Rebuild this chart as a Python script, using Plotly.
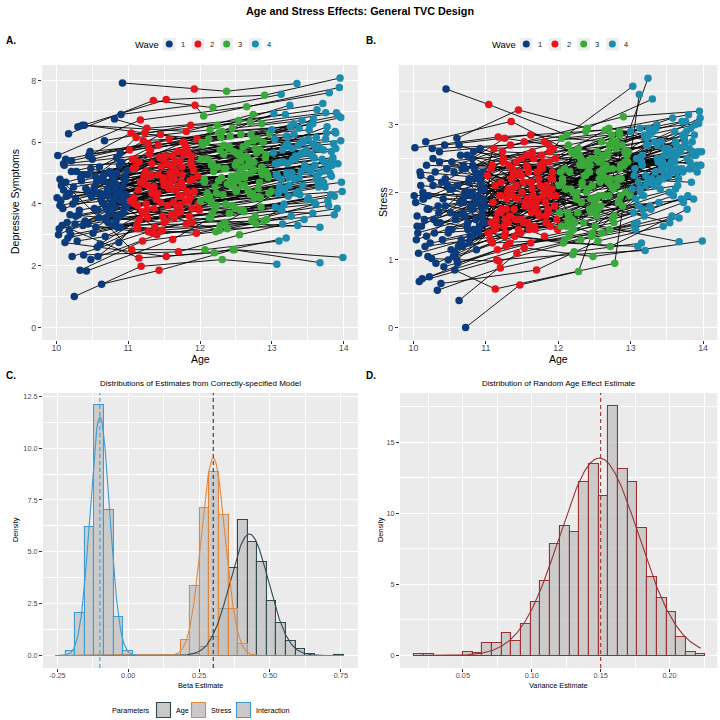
import numpy as np
import plotly.graph_objects as go

FONT = "Liberation Sans, Arial, sans-serif"

# ---------------- Panel A/B data (per subject, 4 waves) ----------------
age_w1 = [10.25, 10.63, 10.92, 10.17, 10.30, 10.90, 10.45, 10.72, 10.57, 10.60,
          10.02, 10.05, 10.08, 10.12, 10.20, 10.33, 10.38, 10.22, 10.42, 10.48,
          10.03, 10.06, 10.10, 10.14, 10.19, 10.24, 10.28, 10.32, 10.36, 10.40,
          10.44, 10.50, 10.53, 10.56, 10.59, 10.62, 10.65, 10.68, 10.70, 10.74,
          10.76, 10.78, 10.80, 10.82, 10.84, 10.86, 10.88, 10.94, 10.96, 10.98,
          10.64, 10.66, 10.69, 10.71, 10.73, 10.75, 10.77, 10.79, 10.81, 10.83,
          10.52, 10.55, 10.58, 10.61, 10.85, 10.87, 10.91, 10.93, 10.95, 10.97,
          10.99, 10.01, 10.04, 10.07, 10.09, 10.11, 10.13, 10.15, 10.18, 10.21,
          10.23, 10.27, 10.29, 10.34, 10.37, 10.41, 10.46, 10.49, 10.51, 10.54,
          10.39, 10.26, 10.16, 10.43, 10.47, 10.67, 10.89, 10.81, 10.36, 10.13,
          10.05, 10.10, 10.18, 10.21, 10.27, 10.31, 10.35, 10.44, 10.48, 10.53,
          10.58, 10.61, 10.66, 10.69, 10.72, 10.75, 10.78, 10.80, 10.83, 10.86,
          10.88, 10.91, 10.93, 10.95, 10.97, 10.68, 10.74, 10.77, 10.82, 10.85,
          10.60, 10.63, 10.70, 10.79, 10.84, 10.90, 10.94, 10.96, 10.98, 10.71]
age_w2 = [11.18, 11.43, 11.92, 11.35, 11.53, 11.93, 11.04, 11.47, 11.13, 11.45,
          11.17, 11.05, 11.15, 11.53, 11.60, 11.20, 11.70, 11.28, 11.62, 11.40,
          11.08, 11.22, 11.30, 11.38, 11.50, 11.65, 11.75, 11.82, 11.88, 11.25,
          11.33, 11.42, 11.57, 11.63, 11.68, 11.72, 11.78, 11.85, 11.90, 11.10,
          11.14, 11.19, 11.24, 11.27, 11.31, 11.36, 11.39, 11.44, 11.49, 11.52,
          11.56, 11.59, 11.64, 11.67, 11.71, 11.74, 11.77, 11.81, 11.84, 11.87,
          11.06, 11.09, 11.12, 11.16, 11.21, 11.26, 11.29, 11.32, 11.37, 11.41,
          11.46, 11.50, 11.55, 11.58, 11.61, 11.66, 11.69, 11.73, 11.76, 11.80,
          11.83, 11.86, 11.89, 11.91, 11.95, 11.97, 11.96, 11.98, 11.99, 11.02,
          11.23, 11.34, 11.48, 11.62, 11.76, 11.87, 11.11, 11.26, 11.81, 11.57,
          11.36, 11.45, 11.13, 11.28, 11.59, 11.74, 11.07, 11.89, 11.21, 11.54,
          11.66, 11.31, 11.79, 11.03, 11.64, 11.92, 11.17, 11.48, 11.72, 11.24,
          11.83, 11.39, 11.61, 11.09, 11.86, 11.27, 11.52, 11.69, 11.42, 11.80,
          11.15, 11.58, 11.33, 11.75, 11.21, 11.68, 11.49, 11.88, 11.35, 11.63]
age_w3 = [12.31, 12.46, 12.37, 12.18, 12.90, 12.05, 12.12, 12.28, 12.78, 12.40,
          12.65, 12.07, 12.20, 12.48, 12.35, 12.22, 12.55, 12.60, 12.15, 12.72,
          12.10, 12.25, 12.42, 12.30, 12.50, 12.58, 12.68, 12.82, 12.88, 12.15,
          12.33, 12.45, 12.52, 12.62, 12.70, 12.75, 12.80, 12.85, 12.92, 12.02,
          12.06, 12.11, 12.16, 12.21, 12.26, 12.32, 12.36, 12.41, 12.44, 12.49,
          12.53, 12.57, 12.61, 12.64, 12.67, 12.71, 12.74, 12.77, 12.81, 12.84,
          12.04, 12.09, 12.13, 12.17, 12.23, 12.27, 12.29, 12.34, 12.39, 12.43,
          12.47, 12.51, 12.56, 12.59, 12.63, 12.66, 12.69, 12.73, 12.76, 12.79,
          12.83, 12.87, 12.89, 12.91, 12.93, 12.95, 12.97, 12.99, 12.01, 12.03,
          12.24, 12.38, 12.45, 12.60, 12.70, 12.86, 12.14, 12.54, 12.74, 12.57,
          12.19, 12.62, 12.84, 12.31, 12.11, 12.47, 12.69, 12.23, 12.55, 12.94,
          12.06, 12.36, 12.77, 12.41, 12.17, 12.63, 12.86, 12.28, 12.51, 12.72,
          12.09, 12.45, 12.96, 12.33, 12.59, 12.21, 12.80, 12.38, 12.66, 12.13,
          12.53, 12.85, 12.26, 12.49, 12.71, 12.16, 12.57, 12.92, 12.43, 12.75]
age_w4 = [13.07, 13.67, 13.35, 13.13, 13.95, 13.94, 13.03, 13.24, 13.12, 13.30,
          13.80, 13.10, 13.20, 13.99, 13.67, 13.15, 13.45, 13.57, 13.05, 13.78,
          13.08, 13.40, 13.52, 13.22, 13.62, 13.48, 13.58, 13.72, 13.88, 13.18,
          13.28, 13.42, 13.55, 13.60, 13.65, 13.70, 13.75, 13.82, 13.85, 13.02,
          13.06, 13.11, 13.16, 13.21, 13.26, 13.32, 13.37, 13.43, 13.46, 13.50,
          13.53, 13.56, 13.61, 13.64, 13.69, 13.73, 13.76, 13.79, 13.83, 13.86,
          13.04, 13.09, 13.14, 13.17, 13.23, 13.27, 13.31, 13.34, 13.38, 13.41,
          13.44, 13.47, 13.51, 13.54, 13.59, 13.62, 13.66, 13.71, 13.74, 13.77,
          13.81, 13.84, 13.87, 13.89, 13.91, 13.92, 13.96, 13.97, 13.98, 13.00,
          13.19, 13.36, 13.39, 13.58, 13.75, 13.90, 13.25, 13.63, 13.71, 13.93,
          13.29, 13.49, 13.16, 13.53, 13.83, 13.07, 13.42, 13.65, 13.37, 13.11,
          13.74, 13.56, 13.21, 13.87, 13.33, 13.46, 13.69, 13.96, 13.13, 13.61,
          13.38, 13.78, 13.24, 13.51, 13.05, 13.59, 13.89, 13.28, 13.72, 13.43,
          13.19, 13.81, 13.66, 13.15, 13.57, 13.34, 13.85, 13.22, 13.63, 13.47]

dep_w1 = [1.00, 1.40, 7.92, 6.27, 6.50, 6.90, 5.55, 3.40, 2.60, 5.20,
          5.57, 4.80, 3.30, 2.75, 3.00, 1.85, 2.35, 2.30, 1.83, 2.20,
          3.00, 4.10, 5.30, 4.25, 3.65, 4.55, 5.05, 3.80, 4.95, 3.45,
          4.40, 5.45, 3.85, 4.70, 3.55, 4.15, 4.90, 3.95, 4.35, 4.60,
          3.70, 4.05, 4.45, 3.90, 5.00, 4.25, 3.60, 4.80, 4.15, 3.95,
          4.05, 4.75, 3.50, 4.30, 3.75, 4.55, 4.95, 3.30, 4.20, 4.65,
          4.40, 3.25, 2.30, 2.70, 3.25, 2.75, 5.35, 4.55, 3.90, 4.30,
          5.10, 4.20, 3.20, 4.60, 3.85, 5.25, 4.70, 3.40, 4.35, 5.05,
          4.00, 3.60, 2.80, 4.85, 3.30, 4.50, 5.60, 4.25, 3.05, 4.90,
          6.55, 3.35, 2.90, 4.95, 5.70, 6.05, 5.65, 6.75, 6.55, 5.45,
          3.95, 4.45, 3.15, 5.40, 4.15, 3.65, 4.75, 3.35, 5.15, 4.55,
          3.80, 4.35, 4.95, 3.55, 4.25, 4.65, 3.95, 4.85, 3.45, 4.40,
          5.25, 4.10, 3.70, 4.90, 4.20, 2.95, 5.05, 4.00, 4.50, 3.60,
          4.80, 4.20, 3.85, 4.60, 5.50, 3.25, 4.30, 4.75, 3.90, 4.45]
dep_w2 = [1.98, 1.85, 7.72, 7.35, 7.38, 7.20, 6.30, 3.15, 3.20, 6.25,
          6.72, 2.52, 2.25, 2.30, 3.65, 2.80, 2.45, 3.10, 2.85, 3.00,
          4.20, 4.90, 5.60, 4.30, 3.40, 5.10, 4.95, 4.40, 5.55, 4.00,
          5.30, 5.90, 4.65, 4.05, 3.90, 5.40, 6.00, 3.60, 4.80, 5.20,
          4.45, 3.75, 4.85, 4.60, 5.75, 3.85, 4.15, 5.50, 4.75, 3.45,
          4.50, 5.25, 3.55, 5.00, 4.25, 4.70, 5.65, 3.35, 4.10, 5.35,
          5.45, 4.00, 3.30, 3.50, 3.70, 3.80, 5.80, 4.95, 3.25, 4.35,
          5.20, 4.60, 3.95, 5.00, 4.85, 5.35, 5.70, 3.75, 4.55, 5.85,
          4.35, 4.20, 3.40, 5.10, 3.05, 4.90, 6.10, 4.00, 3.80, 5.75,
          6.30, 3.05, 3.60, 5.55, 6.00, 6.55, 6.15, 6.45, 6.35, 6.10,
          4.55, 4.05, 3.95, 5.95, 4.95, 4.25, 5.15, 3.85, 4.65, 5.30,
          4.45, 4.90, 5.60, 4.10, 4.80, 4.40, 4.70, 5.45, 3.95, 5.05,
          5.70, 4.30, 4.50, 5.45, 4.75, 3.55, 5.55, 4.55, 4.95, 4.10,
          5.35, 4.70, 4.35, 5.20, 6.05, 3.70, 4.85, 5.25, 4.45, 5.00]
dep_w3 = [2.20, 2.52, 7.65, 7.12, 7.52, 6.85, 6.10, 3.30, 3.35, 5.80,
          7.15, 2.52, 2.42, 2.52, 3.40, 3.10, 3.00, 3.80, 3.55, 3.45,
          4.35, 5.20, 6.20, 4.85, 4.40, 5.50, 5.30, 4.25, 6.00, 4.10,
          5.60, 6.45, 4.95, 4.60, 4.30, 5.10, 5.70, 3.90, 5.05, 5.45,
          4.70, 4.15, 5.25, 4.55, 6.30, 4.30, 4.00, 5.85, 4.90, 3.85,
          4.75, 5.40, 3.75, 5.55, 4.45, 5.00, 6.05, 3.60, 4.50, 5.75,
          5.90, 4.20, 3.55, 3.70, 3.95, 3.15, 6.15, 5.15, 4.65, 4.80,
          5.70, 5.35, 3.80, 4.60, 5.20, 5.95, 5.40, 4.35, 4.20, 5.65,
          4.70, 4.95, 3.45, 5.50, 3.50, 4.85, 6.30, 4.40, 4.10, 6.00,
          6.55, 3.20, 3.95, 5.85, 6.65, 6.60, 6.40, 6.70, 6.90, 6.25,
          5.05, 4.85, 4.20, 6.35, 5.45, 4.55, 5.25, 4.35, 5.65, 4.95,
          4.80, 5.15, 5.80, 3.70, 5.30, 4.95, 5.20, 5.75, 4.45, 5.35,
          6.00, 4.70, 4.35, 5.90, 4.90, 3.85, 6.10, 4.65, 5.50, 4.25,
          5.60, 5.05, 4.75, 5.25, 6.25, 4.05, 5.15, 5.60, 4.60, 5.35]
dep_w4 = [2.05, 2.10, 7.90, 7.55, 8.08, 7.77, 6.92, 4.60, 3.85, 6.60,
          7.60, 2.80, 2.90, 2.27, 3.25, 3.35, 3.50, 3.70, 3.90, 4.10,
          4.90, 5.60, 6.40, 5.30, 4.80, 5.75, 5.95, 4.70, 6.35, 4.45,
          5.80, 6.70, 5.10, 5.25, 4.55, 5.45, 6.10, 4.30, 5.40, 5.65,
          4.95, 4.55, 5.35, 5.00, 6.50, 4.80, 4.40, 6.05, 5.20, 4.15,
          5.15, 5.55, 4.00, 5.80, 4.75, 5.35, 6.30, 3.95, 4.90, 5.95,
          6.10, 4.35, 3.80, 4.00, 4.25, 3.60, 6.25, 5.50, 4.85, 5.05,
          6.00, 5.70, 4.20, 5.05, 5.50, 6.15, 5.85, 4.65, 4.55, 6.50,
          5.00, 5.25, 3.65, 5.80, 3.85, 5.30, 6.80, 4.70, 4.40, 6.40,
          6.90, 3.30, 4.30, 6.75, 6.95, 6.95, 7.20, 7.05, 7.25, 6.85,
          5.45, 5.15, 4.50, 6.55, 5.70, 4.95, 5.65, 4.65, 5.90, 5.35,
          5.10, 5.60, 6.20, 4.25, 5.55, 5.25, 5.05, 6.05, 4.80, 5.85,
          6.45, 5.15, 4.85, 6.10, 5.30, 4.05, 6.30, 5.00, 5.75, 4.60,
          5.85, 5.35, 5.00, 5.75, 6.60, 4.35, 5.50, 5.95, 4.90, 5.65]

str_w1 = [1.02, 0.40, 2.65, 2.75, 2.30, 2.20, 3.53, 0.00, 0.85, 2.80,
          2.66, 1.65, 0.68, 0.72, 1.05, 0.55, 0.65, 0.75, 0.90, 1.00,
          1.85, 1.40, 2.10, 1.90, 1.75, 2.20, 1.60, 1.55, 2.45, 1.30,
          1.80, 2.05, 1.45, 2.30, 1.65, 1.20, 2.55, 1.70, 1.95, 1.50,
          2.15, 1.35, 2.00, 1.75, 2.35, 1.60, 1.90, 2.25, 1.55, 2.05,
          1.85, 1.25, 2.40, 1.65, 2.00, 1.45, 2.20, 1.80, 1.35, 2.60,
          1.15, 1.05, 1.10, 0.95, 1.40, 1.15, 2.25, 2.05, 1.70, 1.90,
          1.80, 1.95, 1.30, 1.10, 2.30, 1.50, 2.00, 1.60, 2.40, 1.75,
          1.25, 2.10, 1.40, 1.80, 1.55, 1.90, 2.35, 1.45, 1.70, 2.05,
          2.15, 2.65, 1.20, 2.70, 2.10, 2.35, 1.95, 2.50, 2.60, 1.90,
          1.50, 2.25, 1.35, 1.95, 2.50, 0.95, 1.70, 2.20, 1.40, 2.45,
          1.60, 2.10, 1.30, 1.85, 2.35, 1.55, 2.00, 1.75, 1.45, 2.30,
          1.85, 1.50, 2.15, 1.65, 2.05, 1.20, 2.55, 1.25, 2.40, 1.90,
          1.00, 2.70, 1.65, 1.95, 2.20, 1.40, 1.80, 2.30, 1.55, 2.00]
str_w2 = [0.98, 1.10, 2.30, 3.05, 2.75, 2.65, 3.30, 0.63, 0.57, 3.22,
          2.82, 1.40, 1.00, 1.18, 1.45, 0.88, 0.85, 1.20, 1.25, 1.35,
          1.55, 1.75, 2.00, 2.25, 1.60, 1.95, 2.10, 1.85, 2.60, 1.50,
          1.65, 2.45, 1.90, 2.15, 1.45, 1.70, 2.35, 2.00, 2.20, 1.85,
          1.60, 1.95, 2.50, 1.40, 2.05, 2.35, 1.75, 1.90, 2.25, 1.55,
          2.40, 1.80, 2.05, 1.50, 2.30, 1.65, 2.55, 1.35, 2.10, 2.45,
          1.30, 1.25, 1.45, 1.15, 1.70, 1.35, 1.90, 2.40, 1.95, 1.60,
          2.30, 2.00, 1.85, 1.55, 2.15, 2.50, 1.80, 2.20, 2.35, 2.05,
          1.55, 1.70, 1.50, 2.05, 1.80, 1.95, 2.50, 1.60, 1.45, 2.25,
          2.60, 2.70, 1.40, 2.85, 2.40, 2.70, 2.65, 2.80, 2.75, 2.55,
          2.05, 1.45, 2.10, 1.75, 2.30, 1.65, 2.35, 1.95, 2.15, 1.80,
          2.50, 1.55, 1.95, 1.40, 2.60, 2.20, 1.70, 2.25, 1.90, 2.45,
          1.65, 2.30, 1.85, 2.40, 1.75, 1.60, 2.15, 1.85, 2.10, 2.45,
          1.50, 2.35, 1.25, 2.40, 1.95, 1.75, 2.50, 2.00, 2.20, 1.70]
str_w3 = [1.30, 1.35, 2.45, 2.60, 3.12, 2.80, 2.85, 0.83, 0.95, 2.95,
          2.92, 1.25, 1.08, 1.05, 1.55, 1.12, 1.28, 1.40, 1.35, 1.20,
          2.05, 1.90, 2.30, 2.40, 1.75, 2.15, 2.55, 2.20, 2.70, 1.65,
          2.10, 2.50, 1.80, 2.25, 1.95, 1.60, 2.65, 2.35, 2.45, 1.70,
          2.15, 1.50, 2.30, 2.00, 2.55, 1.85, 2.25, 2.05, 2.40, 1.90,
          1.65, 2.20, 2.50, 1.95, 2.35, 1.45, 2.75, 1.55, 2.10, 2.90,
          1.50, 1.30, 1.60, 1.40, 1.55, 1.70, 2.55, 2.45, 2.00, 2.30,
          2.10, 2.50, 1.95, 1.80, 2.20, 2.35, 2.60, 2.10, 2.05, 2.65,
          1.85, 2.20, 1.80, 2.40, 2.00, 2.55, 2.60, 1.95, 2.10, 2.30,
          2.55, 2.90, 1.70, 2.75, 2.95, 2.40, 2.70, 2.60, 2.85, 2.45,
          1.60, 2.35, 1.85, 2.50, 2.05, 1.40, 2.15, 2.60, 1.75, 2.45,
          2.20, 2.40, 1.65, 2.30, 2.05, 2.55, 1.95, 2.65, 1.50, 2.20,
          2.35, 1.90, 2.45, 2.15, 2.50, 1.45, 2.75, 2.25, 2.40, 1.70,
          1.90, 2.85, 2.00, 1.80, 2.70, 1.55, 2.30, 2.60, 1.75, 2.35]
str_w4 = [1.45, 1.62, 2.95, 2.95, 3.20, 3.02, 3.57, 3.69, 3.45, 3.38,
          3.15, 1.20, 1.14, 1.28, 1.27, 1.25, 1.50, 1.65, 1.52, 1.75,
          2.50, 2.20, 2.65, 2.70, 2.05, 2.40, 2.55, 2.30, 2.85, 1.95,
          2.15, 2.75, 2.35, 2.60, 2.10, 1.90, 2.70, 2.45, 2.75, 2.05,
          2.35, 1.80, 2.55, 2.25, 2.85, 2.10, 2.50, 2.40, 2.20, 2.60,
          2.00, 2.30, 2.45, 2.55, 2.65, 1.85, 3.05, 1.95, 2.35, 2.60,
          1.70, 1.55, 2.00, 1.75, 2.15, 1.80, 2.90, 2.30, 2.45, 2.05,
          2.45, 2.65, 2.25, 1.55, 2.50, 2.75, 2.20, 2.35, 2.80, 2.90,
          2.35, 2.15, 1.90, 2.55, 2.40, 2.30, 3.10, 2.40, 2.60, 2.90,
          2.85, 3.00, 1.85, 3.10, 2.75, 2.55, 2.95, 2.70, 3.05, 2.60,
          2.20, 2.65, 2.40, 2.25, 2.95, 1.90, 2.50, 2.35, 2.70, 2.15,
          2.80, 2.45, 2.10, 2.55, 2.75, 2.30, 2.60, 2.40, 2.05, 2.90,
          2.15, 2.50, 2.70, 2.55, 2.25, 1.95, 3.00, 1.75, 2.85, 2.35,
          1.65, 2.65, 2.20, 2.45, 2.35, 2.15, 2.60, 2.80, 2.30, 2.55]

wave_labels = ["1", "2", "3", "4"]
wave_colors = ["#0C3B7C", "#E6141B", "#3AA83A", "#1C8BAD"]

# ---------------- Panel C data (histogram densities, shared bins) ----------------
beta_bin_start = -0.2545
beta_bin_width = 0.0338
beta_density_age = [0, 0, 0, 0, 0, 0, 0, 0, 0, 0, 0, 0, 0, 0, 0.07,
                    0.40, 0.89, 2.24, 4.22, 6.52, 5.46, 4.49, 2.61, 1.59, 0.68,
                    0.31, 0.06, 0, 0, 0.03]
beta_density_stress = [0, 0, 0, 0, 0, 0, 0, 0, 0, 0, 0, 0, 0, 0.76, 3.36,
                       7.11, 8.83, 6.79, 2.24, 0.56, 0, 0, 0, 0, 0,
                       0, 0, 0, 0, 0]
beta_density_inter = [0, 0.24, 2.05, 6.20, 12.07, 7.03, 1.85, 0.21, 0, 0,
                      0, 0, 0, 0, 0, 0, 0, 0, 0, 0,
                      0, 0, 0, 0, 0, 0, 0, 0, 0, 0]
param_names = ["Age", "Stress", "Interaction"]
param_colors = ["#2F4A4F", "#E0873E", "#3D9BD1"]
param_mean = [0.4274, 0.300, -0.100]
param_sd = [0.0681, 0.0419, 0.0347]
beta_range = [-0.25, 0.76]
true_beta = [0.30, -0.10]
true_beta_colors = ["#333333", "#3D9BD1"]
beta_ticks = [-0.25, 0.0, 0.25, 0.5, 0.75]
beta_ticktext = ["-0.25", "0.00", "0.25", "0.50", "0.75"]

# ---------------- Panel D data ----------------
var_bin_start = 0.0148
var_bin_width = 0.00704
var_density = [0.14, 0.14, 0, 0, 0, 0.28, 0.20, 0.90, 0.90, 1.60,
               1.05, 2.20, 3.75, 5.25, 7.85, 9.15, 8.70, 12.20, 13.50, 11.20,
               17.60, 13.10, 12.20, 9.00, 5.50, 4.05, 3.05, 1.30, 0.28, 0.14]
var_mean = 0.149
var_sd = 0.0287
var_range = [0.0149, 0.2227]
true_var = 0.15
var_color = "#9C2F2F"

# ---------------- helpers ----------------
def PX(p):
    return p / 720.0

def PY(p):
    return 1 - p / 720.0

def npdf(x, m, s):
    return np.exp(-0.5 * ((x - m) / s) ** 2) / (s * np.sqrt(2 * np.pi))

fig = go.Figure()

ages = [age_w1, age_w2, age_w3, age_w4]
deps = [dep_w1, dep_w2, dep_w3, dep_w4]
strs = [str_w1, str_w2, str_w3, str_w4]
n_sub = min(len(a) for a in ages + deps + strs)

for vals, xa, ya in [(deps, "x", "y"), (strs, "x2", "y2")]:
    lx, ly = [], []
    for i in range(n_sub):
        for w in range(4):
            lx.append(ages[w][i])
            ly.append(vals[w][i])
        lx.append(None)
        ly.append(None)
    fig.add_trace(go.Scatter(x=lx, y=ly, mode="lines", xaxis=xa, yaxis=ya,
                             line=dict(color="black", width=0.9),
                             showlegend=False, hoverinfo="skip"))
    for w in range(4):
        fig.add_trace(go.Scatter(x=ages[w][:n_sub], y=vals[w][:n_sub], mode="markers",
                                 xaxis=xa, yaxis=ya, name=wave_labels[w],
                                 marker=dict(color=wave_colors[w], size=7.5, line=dict(width=0)),
                                 showlegend=False))

# Panel C bars
beta_centers = [beta_bin_start + beta_bin_width * (k + 0.5) for k in range(len(beta_density_age))]
for name, dens, col in zip(param_names, [beta_density_age, beta_density_stress, beta_density_inter], param_colors):
    fig.add_trace(go.Bar(x=beta_centers, y=dens, width=beta_bin_width, xaxis="x3", yaxis="y3",
                         marker=dict(color="rgba(190,190,190,0.7)", line=dict(color=col, width=1.1)),
                         name=name, showlegend=False))
xc = np.linspace(beta_range[0], beta_range[1], 400)
for name, m, s, col in zip(param_names, param_mean, param_sd, param_colors):
    fig.add_trace(go.Scatter(x=xc, y=npdf(xc, m, s), mode="lines", xaxis="x3", yaxis="y3",
                             line=dict(color=col, width=1.1), showlegend=False, hoverinfo="skip"))

# Panel D bars
var_centers = [var_bin_start + var_bin_width * (k + 0.5) for k in range(len(var_density))]
fig.add_trace(go.Bar(x=var_centers, y=var_density, width=var_bin_width, xaxis="x4", yaxis="y4",
                     marker=dict(color="rgba(190,190,190,0.7)", line=dict(color=var_color, width=1.1)),
                     showlegend=False))
xd = np.linspace(var_range[0], var_range[1], 300)
fig.add_trace(go.Scatter(x=xd, y=npdf(xd, var_mean, var_sd), mode="lines", xaxis="x4", yaxis="y4",
                         line=dict(color=var_color, width=1.1), showlegend=False, hoverinfo="skip"))

# ---------------- axes ----------------
def axis(domain, rng, tick0, dtick, mdtick, fsize, fmt=None, anchor=None, standoff=0):
    d = dict(domain=domain, range=rng, tickmode="linear", tick0=tick0, dtick=dtick,
             showgrid=True, gridcolor="white", gridwidth=1.1, zeroline=False, showline=False,
             ticks="outside", ticklen=3, tickwidth=1, tickcolor="#333333",
             tickfont=dict(size=fsize, color="#4D4D4D", family=FONT),
             minor=dict(tick0=tick0, dtick=mdtick, showgrid=True, gridcolor="white", gridwidth=0.5),
             anchor=anchor, ticklabelstandoff=standoff)
    if fmt:
        d["tickformat"] = fmt
    return d

topY = [PY(340), PY(65)]
botY = [PY(668), PY(393)]
lx_dom = [PX(42), PX(358)]
rx_dom = [PX(399), PX(717.5)]

xa3 = axis([PX(43), PX(358)], [-0.3005, 0.8105], -0.25, 0.25, 0.125, 7.3, anchor="y3", standoff=-3)
xa3.update(tickmode="array", tickvals=beta_ticks, ticktext=beta_ticktext)
xa3["minor"] = dict(tickmode="array", tickvals=[-0.125, 0.125, 0.375, 0.625],
                    showgrid=True, gridcolor="white", gridwidth=0.5)

fig.update_layout(
    xaxis=axis(lx_dom, [9.8, 14.2], 10, 1, 0.5, 8.8, anchor="y", standoff=-4),
    yaxis=axis(topY, [-0.405, 8.5], 0, 2, 1, 8.8, anchor="x"),
    xaxis2=axis(rx_dom, [9.8, 14.2], 10, 1, 0.5, 8.8, anchor="y2", standoff=-4),
    yaxis2=axis(topY, [-0.185, 3.885], 0, 1, 0.5, 8.8, anchor="x2"),
    xaxis3=xa3,
    yaxis3=axis(botY, [-0.603, 12.66], 0, 2.5, 1.25, 7.3, fmt=".1f", anchor="x3"),
    xaxis4=axis([PX(400), PX(717.5)], [0.0044, 0.2348], 0.05, 0.05, 0.025, 7.3, fmt=".2f",
                anchor="y4", standoff=-3),
    yaxis4=axis(botY, [-0.88, 18.48], 0, 5, 2.5, 7.3, anchor="x4"),
)

# ---------------- shapes (reference lines + legend keys) ----------------
shapes = []
for v, c in zip(true_beta, true_beta_colors):
    shapes.append(dict(type="line", xref="x3", yref="y3 domain", x0=v, x1=v, y0=0, y1=1,
                       line=dict(color=c, width=1.1, dash="4px,3px")))
shapes.append(dict(type="line", xref="x4", yref="y4 domain", x0=true_var, x1=true_var, y0=0, y1=1,
                   line=dict(color=var_color, width=1.1, dash="4px,3px")))

annotations = []

def ann(text, x, y, size, xanchor="center", yanchor="middle", angle=0, color="black"):
    annotations.append(dict(text=text, x=PX(x), y=PY(y), xref="paper", yref="paper",
                            xanchor=xanchor, yanchor=yanchor, textangle=angle, showarrow=False,
                            font=dict(size=size, color=color, family=FONT)))

# wave legends (panels A and B)
for off in [0, 357]:
    ann("Wave", 133 + off, 44, 9.4, xanchor="left")
    for w in range(4):
        bx = 163 + off + 28.7 * w
        shapes.append(dict(type="rect", xref="paper", yref="paper", x0=PX(bx), x1=PX(bx + 12.5),
                           y0=PY(50.5), y1=PY(38), fillcolor="#EDEDED", line=dict(width=0)))
        cx = bx + 6.25
        shapes.append(dict(type="circle", xref="paper", yref="paper", x0=PX(cx - 3.5), x1=PX(cx + 3.5),
                           y0=PY(44 + 3.5), y1=PY(44 - 3.5), fillcolor=wave_colors[w], line=dict(width=0)))
        ann(wave_labels[w], bx + 16, 44.5, 7.5, xanchor="left", color="#222222")

# parameters legend (panel C)
ann("Parameters", 152, 710, 7.2, xanchor="right")
key_x = [156, 191, 236]
for name, col, kx in zip(param_names, param_colors, key_x):
    shapes.append(dict(type="rect", xref="paper", yref="paper", x0=PX(kx), x1=PX(kx + 15),
                       y0=PY(718), y1=PY(702), fillcolor="#F2F2F2", line=dict(width=0)))
    shapes.append(dict(type="rect", xref="paper", yref="paper", x0=PX(kx + 0.5), x1=PX(kx + 14.5),
                       y0=PY(717.5), y1=PY(702.5), fillcolor="#C9C9C9", line=dict(color=col, width=1.1)))
    ann(name, kx + 18, 710, 7.2, xanchor="left")

# titles and labels
ann("<b>Age and Stress Effects: General TVC Design</b>", 360, 11, 10.8)
ann("<b>A.</b>", 4, 40, 10, xanchor="left")
ann("<b>B.</b>", 364, 40, 10, xanchor="left")
ann("<b>C.</b>", 4, 375, 10, xanchor="left")
ann("<b>D.</b>", 364, 375, 10, xanchor="left")
ann("Age", 200, 359, 10.5)
ann("Age", 558, 359, 10.5)
ann("Depressive Symptoms", 15, 202, 10.5, angle=-90)
ann("Stress", 383, 202, 10.5, angle=-90)
ann("Distributions of Estimates from Correctly-specified Model", 200, 383.5, 8)
ann("Distribution of Random Age Effect Estimate", 558.5, 383.5, 8)
ann("Beta Estimate", 200, 685, 7.3)
ann("Variance Estimate", 558.5, 685, 7.3)
ann("Density", 15, 530, 7.3, angle=-90)
ann("Density", 380, 530, 7.3, angle=-90)

fig.update_layout(
    width=720, height=720, autosize=False,
    margin=dict(l=0, r=0, t=0, b=0),
    paper_bgcolor="white", plot_bgcolor="#EBEBEB",
    barmode="overlay", bargap=0, showlegend=False,
    font=dict(family=FONT),
    shapes=shapes, annotations=annotations,
)

fig.write_html("out.html", config={"displayModeBar": False},
               post_script="document.body.style.margin='0px';document.body.style.padding='0px';")
